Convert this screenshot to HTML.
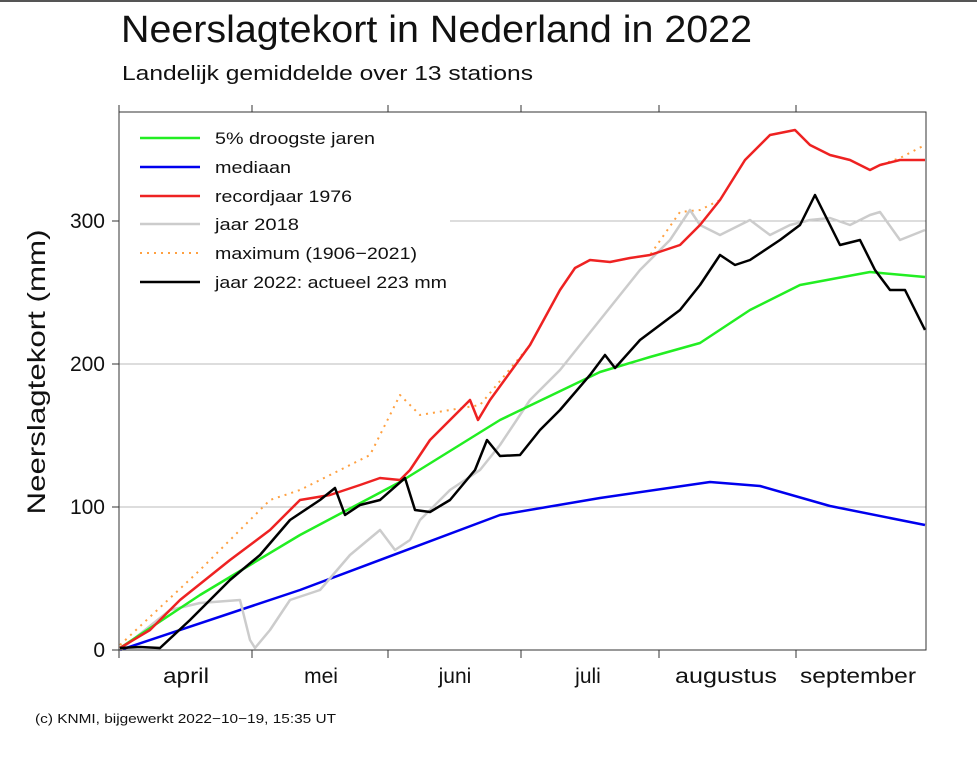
<!DOCTYPE html><html><head><style>body{margin:0;background:#fff}svg{display:block}text{font-family:"Liberation Sans",sans-serif;fill:#111}</style></head><body>
<svg width="977" height="760" viewBox="0 0 977 760">
<rect x="0" y="0" width="977" height="2" fill="#555"/>
<text x="121" y="42" font-size="38" textLength="631" lengthAdjust="spacingAndGlyphs">Neerslagtekort in Nederland in 2022</text>
<text x="122" y="80" font-size="20" textLength="411" lengthAdjust="spacingAndGlyphs">Landelijk gemiddelde over 13 stations</text>
<g stroke="#bbb" stroke-width="1">
<line x1="119" y1="507" x2="926" y2="507"/><line x1="119" y1="364" x2="926" y2="364"/><line x1="450" y1="221" x2="926" y2="221"/></g>
<g fill="none" stroke-width="2.5" stroke-linejoin="round">
<polyline stroke="#0000ee" points="120,650 300,590 500,515 600,498 710,482 760,486 830,506 925,525"/>
<polyline stroke="#ffa040" stroke-width="2" stroke-dasharray="2,5" points="120,645 200,570 270,500 300,490 340,470 370,455 400,395 420,415 450,410 480,405 530,345 560,290 575,268 590,260 610,262 630,258 650,255 680,212 700,210 720,200 745,160 770,135 795,130 810,145 830,155 850,160 870,170 880,165 900,158 925,145"/>
<polyline stroke="#cccccc" points="120,650 170,610 200,603 240,600 250,640 255,648 270,630 290,600 320,590 350,555 380,530 395,550 410,540 420,520 450,490 480,470 500,445 530,400 560,370 600,320 640,270 670,240 690,210 700,225 720,235 750,220 770,235 790,225 810,220 830,218 850,225 870,215 880,212 900,240 925,230"/>
<polyline stroke="#22ee22" points="120,648 200,595 300,535 400,482 500,420 600,372 650,357 700,343 750,310 800,285 870,272 925,277"/>
<polyline stroke="#ee2222" points="120,648 150,630 180,600 230,560 270,530 300,500 330,495 360,485 380,478 400,480 410,470 430,440 460,410 470,400 478,420 490,400 530,345 560,290 575,268 590,260 610,262 630,258 650,255 680,245 700,225 720,200 745,160 770,135 795,130 810,145 830,155 850,160 870,170 880,165 900,160 925,160"/>
<polyline stroke="#000" points="120,648 140,647 160,648 190,620 230,580 260,555 290,520 320,500 335,488 345,515 360,505 380,500 405,478 415,510 430,512 450,500 475,470 487,440 500,456 520,455 540,430 560,410 590,375 605,355 615,368 640,340 680,310 700,285 720,255 735,265 750,260 780,240 800,225 815,195 825,215 840,245 860,240 875,270 890,290 905,290 915,310 925,330"/>
</g>
<g fill="none" stroke="#333" stroke-width="1">
<rect x="119" y="112" width="807" height="538"/>
<line x1="119" y1="105" x2="119" y2="112"/><line x1="252" y1="105" x2="252" y2="112"/><line x1="388" y1="105" x2="388" y2="112"/><line x1="521" y1="105" x2="521" y2="112"/><line x1="659" y1="105" x2="659" y2="112"/><line x1="796" y1="105" x2="796" y2="112"/>
<line x1="119" y1="650" x2="119" y2="658"/><line x1="252" y1="650" x2="252" y2="658"/><line x1="388" y1="650" x2="388" y2="658"/><line x1="521" y1="650" x2="521" y2="658"/><line x1="659" y1="650" x2="659" y2="658"/><line x1="796" y1="650" x2="796" y2="658"/>
<line x1="112" y1="650" x2="119" y2="650"/><line x1="112" y1="507" x2="119" y2="507"/><line x1="112" y1="364" x2="119" y2="364"/><line x1="112" y1="221" x2="119" y2="221"/>
</g>
<g font-size="21" text-anchor="end"><text x="105" y="657">0</text><text x="105" y="514">100</text><text x="105" y="371">200</text><text x="105" y="228">300</text></g>
<text transform="translate(45,372) rotate(-90)" font-size="25" text-anchor="middle" textLength="285" lengthAdjust="spacingAndGlyphs">Neerslagtekort (mm)</text>
<g font-size="21" text-anchor="middle"><text x="186" y="683" textLength="46" lengthAdjust="spacingAndGlyphs">april</text><text x="321" y="683">mei</text><text x="455" y="683">juni</text><text x="588" y="683">juli</text><text x="726" y="683" textLength="102" lengthAdjust="spacingAndGlyphs">augustus</text><text x="858" y="683" textLength="116" lengthAdjust="spacingAndGlyphs">september</text></g>
<text x="35" y="723" font-size="13" textLength="301" lengthAdjust="spacingAndGlyphs">(c) KNMI, bijgewerkt 2022−10−19, 15:35 UT</text>
<g stroke-width="2.5">
<line x1="140" y1="138" x2="200" y2="138" stroke="#22ee22"/>
<line x1="140" y1="167" x2="200" y2="167" stroke="#0000ee"/>
<line x1="140" y1="196" x2="200" y2="196" stroke="#ee2222"/>
<line x1="140" y1="224" x2="200" y2="224" stroke="#ccc"/>
<line x1="140" y1="253" x2="200" y2="253" stroke="#ffa040" stroke-width="2" stroke-dasharray="2,5"/>
<line x1="140" y1="282" x2="200" y2="282" stroke="#000"/></g>
<g font-size="17"><text x="215" y="144" textLength="160" lengthAdjust="spacingAndGlyphs">5% droogste jaren</text><text x="215" y="173" textLength="76" lengthAdjust="spacingAndGlyphs">mediaan</text><text x="215" y="202" textLength="137" lengthAdjust="spacingAndGlyphs">recordjaar 1976</text><text x="215" y="230" textLength="84" lengthAdjust="spacingAndGlyphs">jaar 2018</text><text x="215" y="259" textLength="202" lengthAdjust="spacingAndGlyphs">maximum (1906−2021)</text><text x="215" y="288" textLength="232" lengthAdjust="spacingAndGlyphs">jaar 2022: actueel 223 mm</text></g>
</svg></body></html>
